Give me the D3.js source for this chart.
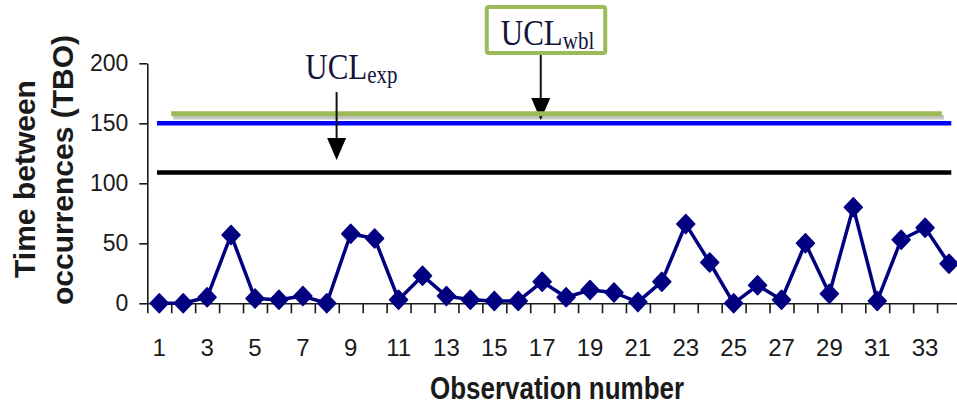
<!DOCTYPE html>
<html>
<head>
<meta charset="utf-8">
<script src="https://cdn.jsdelivr.net/npm/d3@7"></script>
<style>
  html, body { margin: 0; padding: 0; background: #fff; overflow: hidden; }
  svg { display: block; }
</style>
</head>
<body>
<svg id="chart" width="957" height="405"></svg>
<script>
// Observation numbers and time between occurrences
const observations = [1, 2, 3, 4, 5, 6, 7, 8, 9, 10, 11, 12, 13, 14, 15, 16, 17,
                      18, 19, 20, 21, 22, 23, 24, 25, 26, 27, 28, 29, 30, 31, 32, 33, 34];
const tbo = [0, 0, 5, 57, 4, 3, 6, 0, 58, 54, 3, 23, 6, 3, 2, 2, 18,
             5, 11, 9, 1, 18, 66, 34, 0, 15, 3, 50, 8, 80, 2, 53, 63, 33];

// Axis ticks
const xTickLabels = [1, 3, 5, 7, 9, 11, 13, 15, 17, 19, 21, 23, 25, 27, 29, 31, 33];
const yTicks = [0, 50, 100, 150, 200];

// Control limits
const uclExp = 109;          // black limit line
const uclRef = 150;          // blue limit line
const uclWbl = 158;          // green limit line
const uclWblSpan = [1.5, 33.7]; // observation range covered by the green line

// Callouts: text anchor (observation, value) and arrow (observation, from value, to value)
const callouts = [
  { main: "UCL", sub: "exp", textAt: [7.1, 187], arrow: [8.41, 176, 119.5], boxed: false },
  { main: "UCL", sub: "wbl", textAt: [15.27, 215.3], arrow: [16.94, 207, 152.8], boxed: true }
];

const xTitle = "Observation number";
const yTitle = ["Time between", "occurrences (TBO)"];

const svg = d3.select("#chart");
const sans = "'Liberation Sans', Arial, sans-serif";
const serif = "'Liberation Serif', 'Times New Roman', serif";
const inkColor = "#1a1a1a";

const x = d3.scaleBand().domain(observations).range([147.3, 961]).paddingInner(0).paddingOuter(0);
const xAt = c => x(observations[0]) + x.bandwidth() / 2 + (c - observations[0]) * x.step();
const xEdge = d3.scaleLinear().domain([0, observations.length]).range(x.range());
const y = d3.scaleLinear().domain([0, 200]).range([303.3, 63.3]);

// ---- y axis ----
const yAxis = svg.append("g")
  .attr("transform", `translate(${x.range()[0]},0)`)
  .call(d3.axisLeft(y).tickValues(yTicks).tickSize(8).tickSizeOuter(0).tickPadding(11));
yAxis.select(".domain").attr("stroke", inkColor).attr("stroke-width", 1.6);
yAxis.selectAll(".tick line").attr("stroke", inkColor).attr("stroke-width", 1.6);
yAxis.selectAll(".tick text")
  .attr("font-family", sans).attr("font-size", 23).attr("fill", inkColor);

// ---- x axis: ticks on category boundaries ----
const xTickAxis = svg.append("g")
  .attr("transform", `translate(0,${y(0)})`)
  .call(d3.axisBottom(xEdge).tickValues(d3.range(0, observations.length + 1))
    .tickSize(10).tickSizeOuter(0).tickFormat(""));
xTickAxis.select(".domain").attr("stroke", inkColor).attr("stroke-width", 1.6);
xTickAxis.selectAll(".tick line").attr("stroke", inkColor).attr("stroke-width", 1.6);

// ---- x axis labels at category centres ----
const xLabelAxis = svg.append("g")
  .attr("transform", `translate(0,${y(0)})`)
  .call(d3.axisBottom(x).tickValues(xTickLabels).tickSize(0).tickPadding(36));
xLabelAxis.select(".domain").remove();
xLabelAxis.selectAll(".tick text")
  .attr("font-family", sans).attr("font-size", 24).attr("fill", inkColor);

// ---- axis titles ----
svg.append("text")
  .attr("transform", `translate(557,399) scale(1,1.2)`)
  .attr("text-anchor", "middle")
  .attr("font-family", sans).attr("font-weight", "bold").attr("font-size", 26)
  .attr("fill", inkColor)
  .text(xTitle);

const yTitlePos = [[35, 179], [73, 170]];
svg.selectAll("text.ytitle")
  .data(yTitle)
  .join("text")
  .attr("class", "ytitle")
  .attr("transform", (d, i) => `translate(${yTitlePos[i][0]},${yTitlePos[i][1]}) rotate(-90)`)
  .attr("text-anchor", "middle")
  .attr("font-family", sans).attr("font-weight", "bold").attr("font-size", 30)
  .attr("fill", inkColor)
  .text(d => d);

// ---- limit lines ----
const first = observations[0], last = observations[observations.length - 1];
svg.append("line")
  .attr("x1", xAt(first)).attr("x2", xAt(last))
  .attr("y1", y(uclExp)).attr("y2", y(uclExp))
  .attr("stroke", "#000").attr("stroke-width", 4.5).attr("stroke-linecap", "square");
svg.append("line")
  .attr("x1", xAt(first)).attr("x2", xAt(last))
  .attr("y1", y(uclRef)).attr("y2", y(uclRef))
  .attr("stroke", "#0000ff").attr("stroke-width", 4.5).attr("stroke-linecap", "square");
// shadow under the green line
svg.append("line")
  .attr("x1", xAt(uclWblSpan[0]) + 2).attr("x2", xAt(uclWblSpan[1]) + 2)
  .attr("y1", y(uclWbl) + 3.5).attr("y2", y(uclWbl) + 3.5)
  .attr("stroke", "#c4c4c4").attr("stroke-width", 4.5);

// ---- callout arrows and labels ----
function drawArrow(g, cx, fromV, toV) {
  const xs = xAt(cx), y0 = y(fromV), y1 = y(toV);
  const headLen = 22, headHalf = 9.5;
  g.append("line")
    .attr("x1", xs).attr("x2", xs).attr("y1", y0).attr("y2", y1 - headLen + 2)
    .attr("stroke", "#111").attr("stroke-width", 2);
  g.append("path")
    .attr("d", d3.line()([[xs - headHalf, y1 - headLen], [xs + headHalf, y1 - headLen], [xs, y1]]) + "Z")
    .attr("fill", "#000");
}

function drawLabel(g, c) {
  const tx = xAt(c.textAt[0]), ty = y(c.textAt[1]);
  const t = g.append("text")
    .attr("transform", `translate(${tx},${ty}) scale(1,1.15)`)
    .attr("font-family", serif).attr("fill", "#14143a");
  t.append("tspan").attr("font-size", 31).text(c.main);
  t.append("tspan").attr("font-size", 21).attr("dy", 3.5).text(c.sub);
  if (c.boxed) {
    const bb = t.node().getBBox();
    g.insert("rect", "text")
      .attr("x", tx - 14).attr("y", ty - 38)
      .attr("width", bb.width + 25).attr("height", 46)
      .attr("rx", 2).attr("ry", 2)
      .attr("fill", "#fff").attr("stroke", "#9bbb59").attr("stroke-width", 4);
  }
}

const wbl = callouts[1], exp = callouts[0];
const wblGroup = svg.append("g");
drawArrow(wblGroup, wbl.arrow[0], wbl.arrow[1], wbl.arrow[2]);
drawLabel(wblGroup, wbl);

// green limit line sits over the wbl arrow tip
svg.append("line")
  .attr("x1", xAt(uclWblSpan[0])).attr("x2", xAt(uclWblSpan[1]))
  .attr("y1", y(uclWbl)).attr("y2", y(uclWbl))
  .attr("stroke", "#9bbb59").attr("stroke-width", 5);

const expGroup = svg.append("g");
drawArrow(expGroup, exp.arrow[0], exp.arrow[1], exp.arrow[2]);
drawLabel(expGroup, exp);

// ---- TBO series ----
const navy = "#000080";
svg.append("path")
  .datum(observations.map((o, i) => [xAt(o), y(tbo[i])]))
  .attr("d", d3.line())
  .attr("fill", "none").attr("stroke", navy).attr("stroke-width", 3.5)
  .attr("stroke-linejoin", "round");

const diamond = (cx, cy) => d3.line()([[cx, cy - 9.5], [cx + 9, cy], [cx, cy + 9.5], [cx - 9, cy]]) + "Z";
svg.selectAll("path.marker")
  .data(observations)
  .join("path")
  .attr("class", "marker")
  .attr("d", (o, i) => diamond(xAt(o), y(tbo[i])))
  .attr("fill", navy)
  .attr("stroke", navy).attr("stroke-width", 1.5).attr("stroke-linejoin", "round");
</script>
</body>
</html>
